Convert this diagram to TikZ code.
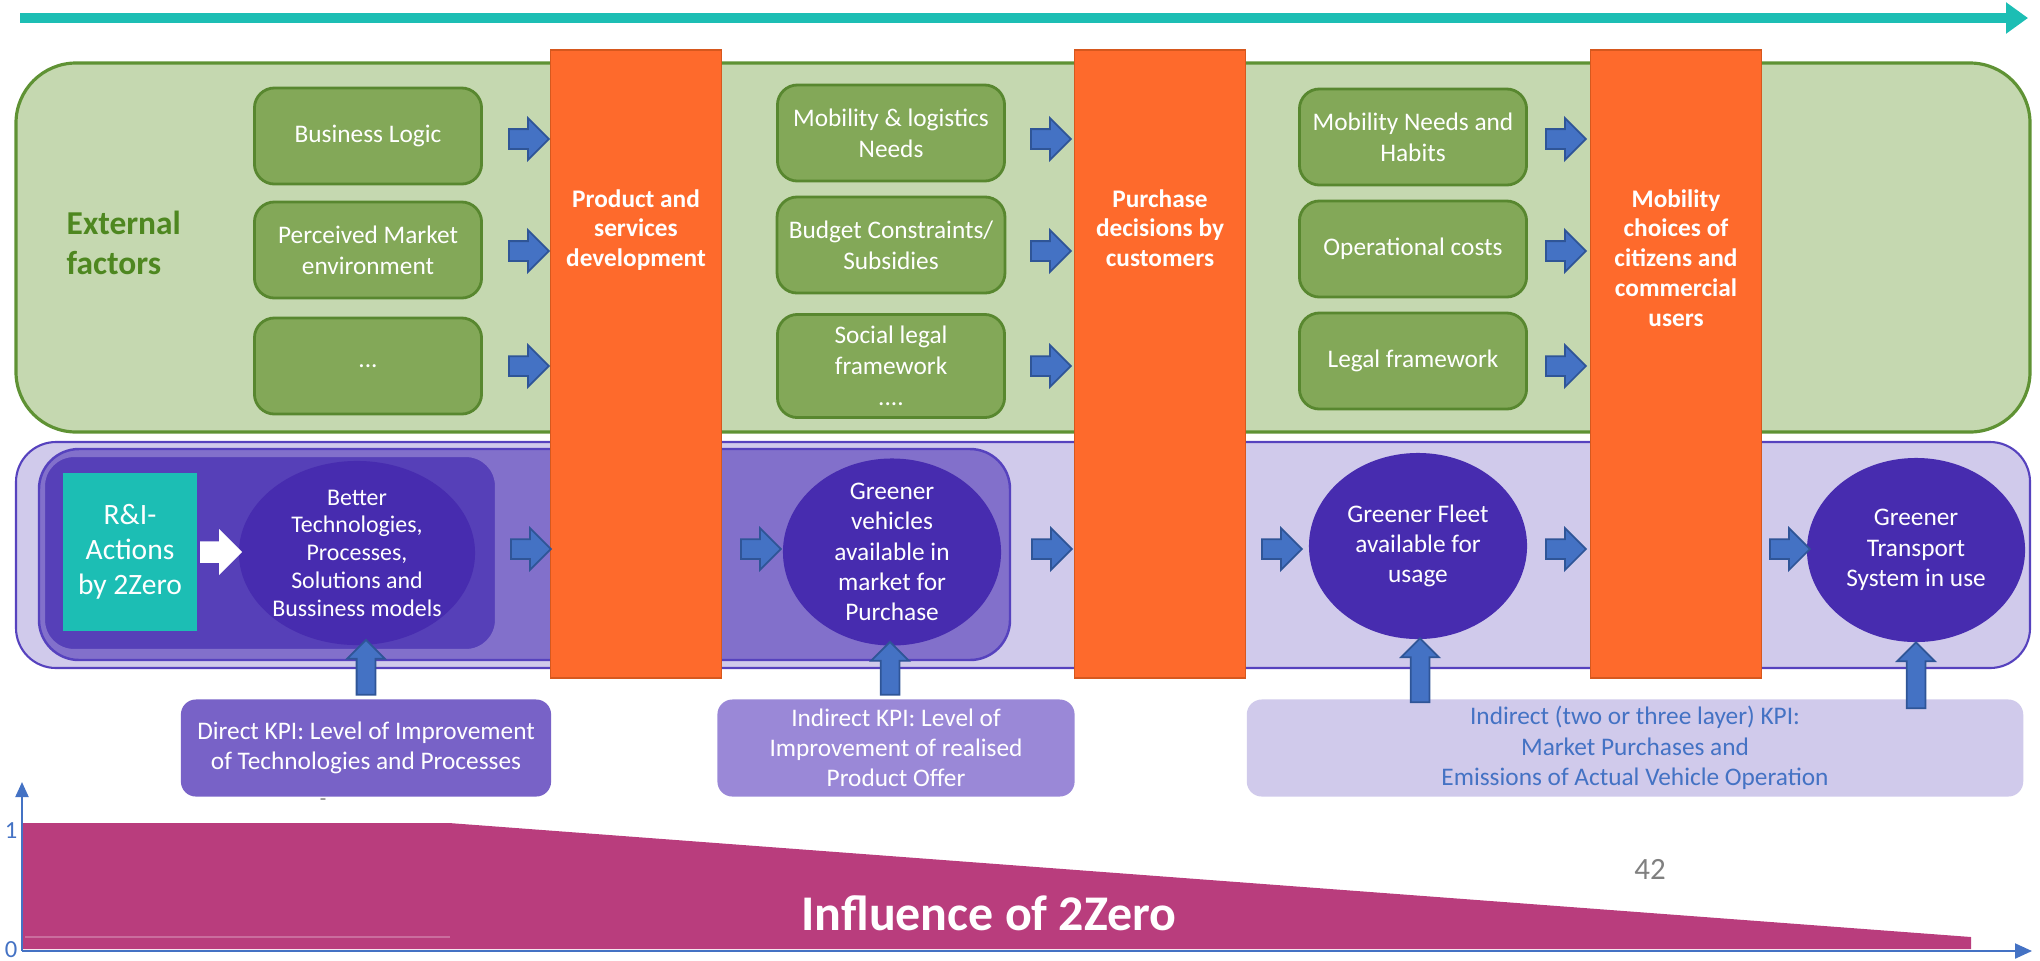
\documentclass[tikz,border=0pt]{standalone}
\usepackage{fontspec}
\setmainfont{Carlito}
\usetikzlibrary{positioning,shapes.arrows,shapes.geometric,arrows.meta}

\definecolor{teal2z}{RGB}{28,190,180}
\definecolor{extfill}{RGB}{197,216,176}
\definecolor{extedge}{RGB}{95,146,52}
\definecolor{extgreen}{RGB}{78,135,32}
\definecolor{boxgreen}{RGB}{131,168,88}
\definecolor{boxedge}{RGB}{88,135,47}
\definecolor{barorange}{RGB}{254,106,44}
\definecolor{baredge}{RGB}{214,88,30}
\definecolor{arrblue}{RGB}{68,114,196}
\definecolor{arredge}{RGB}{47,85,151}
\definecolor{bandfill}{RGB}{208,202,235}
\definecolor{bandedge}{RGB}{86,66,190}
\definecolor{midpurple}{RGB}{130,112,203}
\definecolor{darkpurple}{RGB}{86,64,184}
\definecolor{circpurple}{RGB}{71,44,175}
\definecolor{kpione}{RGB}{120,98,199}
\definecolor{kpitwo}{RGB}{154,136,215}
\definecolor{kpithree}{RGB}{208,202,235}
\definecolor{infmag}{RGB}{185,61,125}

\tikzset{
  extbox/.style={draw=extedge, line width=0.9pt, fill=extfill, rounded corners=0.6cm},
  exttitle/.style={text=extgreen, align=left, inner sep=0pt, font=\bfseries\fontsize{9.5}{11.4}\selectfont},
  factor/.style={draw=boxedge, line width=0.8pt, fill=boxgreen, rounded corners=0.2cm,
    minimum width=2.27cm, minimum height=0.96cm, text=white, align=center,
    font=\fontsize{7.2}{8.8}\selectfont},
  band/.style={draw=bandedge, line width=0.6pt, fill=bandfill, rounded corners=0.4cm},
  midbox/.style={draw=bandedge, line width=0.7pt, fill=midpurple, rounded corners=0.4cm},
  darkbox/.style={draw=midpurple, line width=0.6pt, fill=darkpurple, rounded corners=0.3cm},
  action/.style={fill=teal2z, minimum width=1.34cm, minimum height=1.58cm, inner sep=0pt,
    text=white, align=center, font=\fontsize{8.4}{10}\selectfont},
  outcome/.style={ellipse, fill=circpurple, inner sep=0pt},
  outtext/.style={text=white, align=center, inner sep=0pt, font=\fontsize{7.2}{8.6}\selectfont},
  decision/.style={draw=baredge, line width=0.5pt, fill=barorange,
    minimum width=1.71cm, minimum height=6.27cm, inner sep=0pt},
  bartext/.style={text=white, align=center, inner sep=0pt, font=\bfseries\fontsize{7.2}{8.5}\selectfont},
  rarrow/.style={single arrow, draw=arredge, fill=arrblue, line width=0.5pt,
    inner xsep=0pt, inner ysep=0.09cm, minimum height=0.40cm, single arrow head extend=0.11cm},
  uarrow/.style={rarrow, rotate=90, inner ysep=0.085cm, single arrow head extend=0.095cm},
  kpi/.style={rounded corners=0.15cm, minimum height=0.97cm, inner sep=0pt, text=white,
    align=center, font=\fontsize{7.2}{8.6}\selectfont},
  axislabel/.style={text=arrblue, inner sep=0pt, font=\fontsize{7}{8}\selectfont}
}

\begin{document}
\begin{tikzpicture}[x=0.01cm, y=-0.01cm]
\useasboundingbox (0,0) rectangle (2040,960);

% time line
\coordinate (tstart) at (20,18);
\coordinate (tend) at (2028,18);
\draw[teal2z, line width=2.6pt, -{Triangle[length=0.22cm,width=0.3cm]}] (tstart) -- (tend);

% external factors
\draw[extbox] (16,63) rectangle (2030,432);
\node[exttitle, anchor=west] (ext) at (66,243) {External\\factors};

\node[factor] (logic) at (368,136) {Business Logic};
\node[factor] (market) at (368,250) {Perceived Market\\environment};
\node[factor] (more) at (368,366) {...};
\node[factor] (needs) at (891,133) {Mobility \& logistics\\Needs};
\node[factor] (budget) at (891,245) {Budget Constraints/\\Subsidies};
\node[factor] (social) at (891,366) {Social legal\\framework\\....};
\node[factor] (habits) at (1413,137) {Mobility Needs and\\Habits};
\node[factor] (opcost) at (1413,249) {Operational costs};
\node[factor] (legal) at (1413,361) {Legal framework};

% R&I chain
\draw[band] (16,442) rectangle (2030,668);
\draw[midbox] (39,449) rectangle (1010,660);
\draw[darkbox] (44,456) rectangle (496,650);
\node[action] (ri) at (130,552) {R\&I-\\Actions\\by 2Zero};
\node[outcome, minimum width=2.36cm, minimum height=1.84cm,
  label={[outtext, font=\fontsize{6.8}{7.9}\selectfont]center:{Better\\Technologies,\\Processes,\\Solutions and\\Bussiness models}}] (better) at (357,553) {};
\node[outcome, minimum width=2.18cm, minimum height=1.87cm,
  label={[outtext]center:{Greener\\vehicles\\available in\\market for\\Purchase}}] (vehicles) at (892,552) {};
\node[outcome, minimum width=2.18cm, minimum height=1.86cm,
  label={[outtext]center:{Greener Fleet\\available for\\usage}}] (fleet) at (1418,546) {};
\node[outcome, minimum width=2.18cm, minimum height=1.84cm,
  label={[outtext]center:{Greener\\Transport\\System in use}}] (transport) at (1916,550) {};

% decisions
\node[decision] (develop) at (636,364) {};
\node[bartext, below=1.39cm of develop.north] (developtxt) {Product and\\services\\development};
\node[decision] (purchase) at (1160,364) {};
\node[bartext, below=1.39cm of purchase.north] (purchasetxt) {Purchase\\decisions by\\customers};
\node[decision] (choice) at (1676,364) {};
\node[bartext, below=1.39cm of choice.north] (choicetxt) {Mobility\\choices of\\citizens and\\commercial\\users};

% arrows into the decisions
\foreach \x/\n in {524/a,1046/b,1561/c}
  \foreach \y/\m in {139/1,251/2,366/3}
    \node[rarrow] (in\n\m) at (\x,\y) {};

% arrows along the chain
\node[rarrow, fill=white, draw=white] (start) at (216,552) {};
\foreach \x [count=\i] in {526,756,1047,1277,1561,1785}
  \node[rarrow] (chain\i) at (\x,549) {};

% KPIs
\node[kpi, fill=kpione, minimum width=3.70cm] (kpidirect) at (366,748) {Direct KPI: Level of Improvement\\of Technologies and Processes};
\node[kpi, fill=kpitwo, minimum width=3.57cm] (kpiindirect) at (896,748) {Indirect KPI: Level of\\Improvement of realised\\Product Offer};
\node[kpi, fill=kpithree, text=arrblue, minimum width=7.76cm] (kpilayer) at (1635,748) {Indirect (two or three layer) KPI:\\Market Purchases and\\Emissions of Actual Vehicle Operation};
\node[text=gray, inner sep=0pt, font=\fontsize{6}{7}\selectfont] (tick) at (323,802) {-};

\node[uarrow, minimum height=0.55cm] (up1) at (366,672) {};
\node[uarrow, minimum height=0.53cm] (up2) at (890,673) {};
\node[uarrow, minimum height=0.64cm] (up3) at (1420,675) {};
\node[uarrow, minimum height=0.66cm] (up4) at (1916,680) {};

% influence
\fill[infmag] (22,823) -- (449,823) -- (1971,937) -- (1971,949) -- (22,949) -- cycle;
\draw[infmag!75!white, line width=0.4pt] (25,937) -- (450,937);
\node[text=white, font=\bfseries\fontsize{14.2}{17}\selectfont] (influence) at (989,913) {Influence of 2Zero};
\node[text=gray, font=\fontsize{8.8}{10}\selectfont] (page) at (1650,869) {42};

\coordinate (origin) at (22,951);
\coordinate (ytop) at (22,782);
\coordinate (xend) at (2032,951);
\draw[arrblue, line width=0.6pt, -{Triangle[length=0.15cm,width=0.13cm]}] (origin) -- (ytop);
\draw[arrblue, line width=0.6pt, -{Triangle[length=0.17cm,width=0.15cm]}] (origin) -- (xend);
\node[axislabel] (one) at (11,831) {1};
\node[axislabel] (zero) at (11,950) {0};
\end{tikzpicture}
\end{document}
